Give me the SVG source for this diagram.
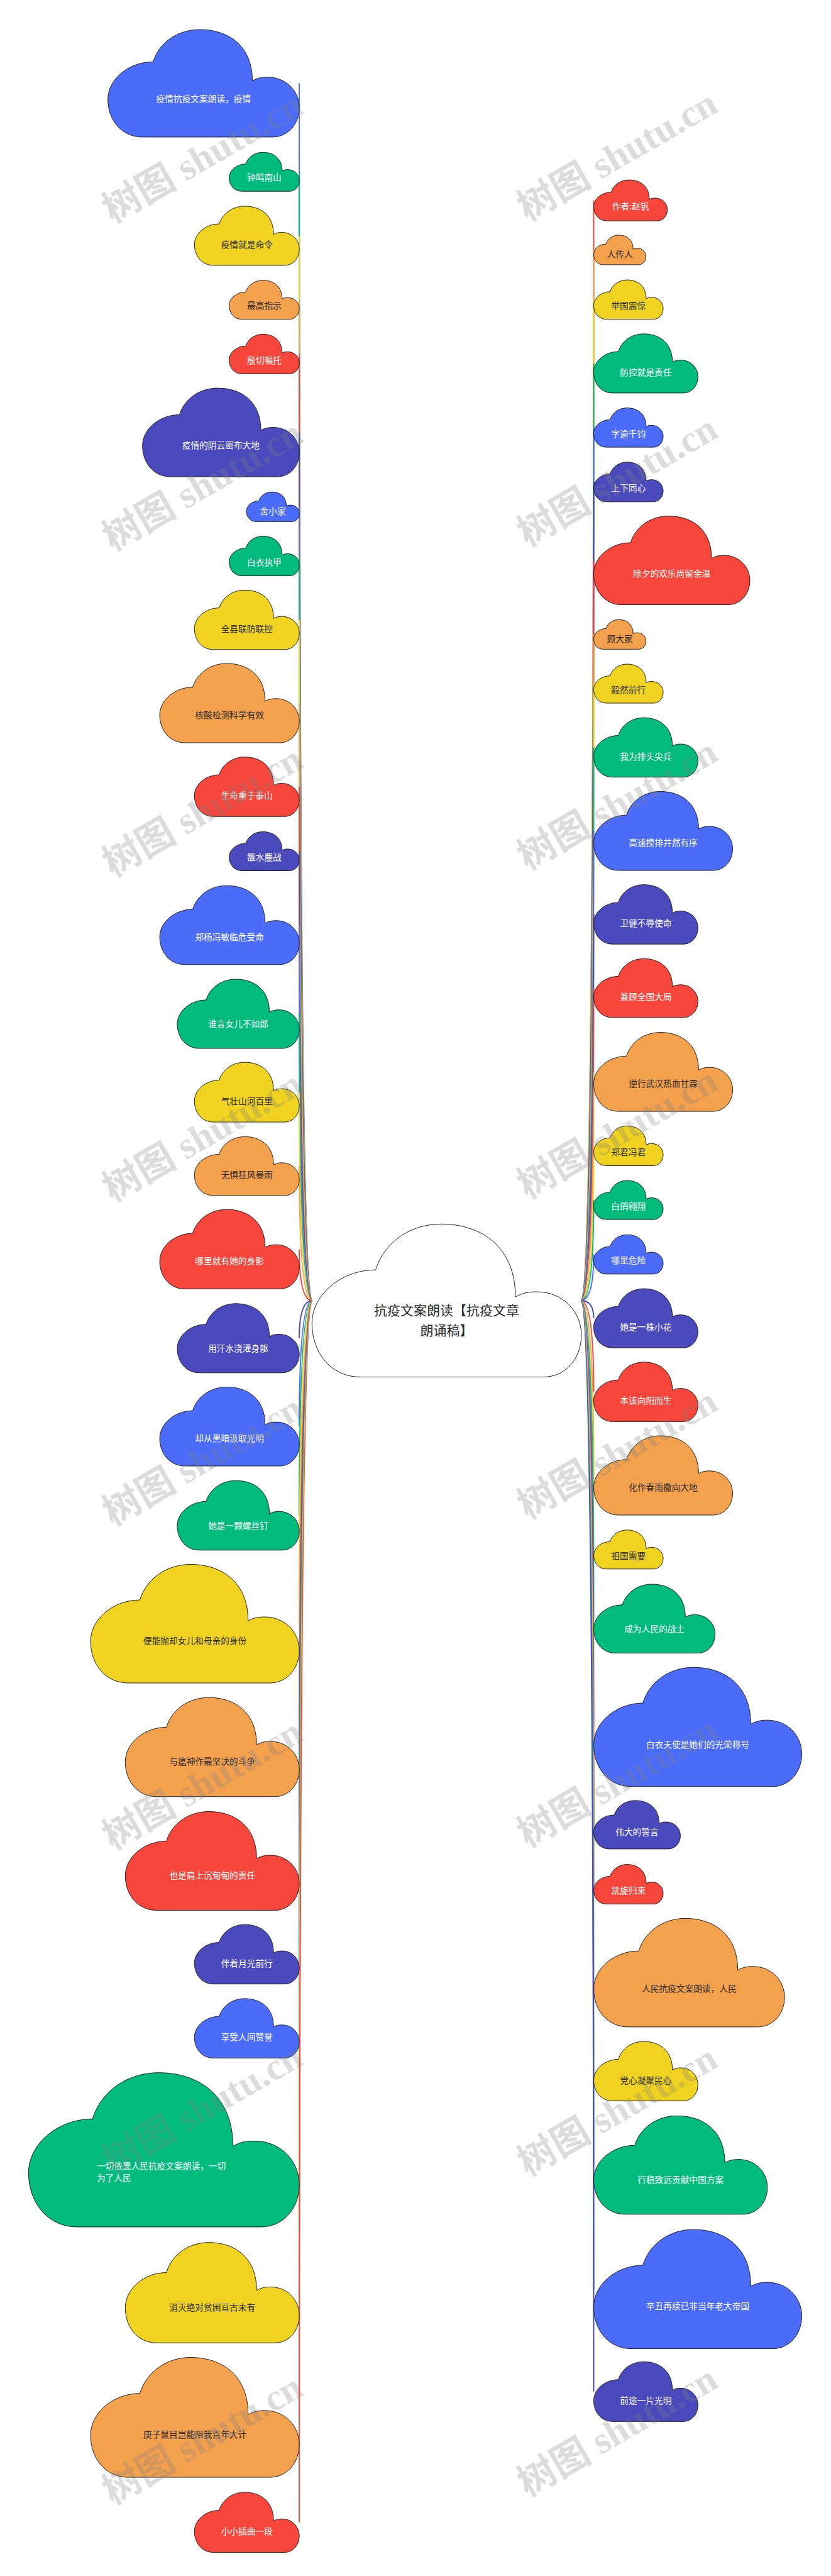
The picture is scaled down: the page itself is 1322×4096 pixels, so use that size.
<svg xmlns="http://www.w3.org/2000/svg" xmlns:xlink="http://www.w3.org/1999/xlink" width="1322" height="4096" viewBox="0 0 1322 4096">
<style>
.cl{stroke:#1f1f1f;stroke-width:1}
.bl{fill:#4A6CF8}.gr{fill:#00BB7B}.ye{fill:#F0D320}.or{fill:#F4A14E}.re{fill:#F6453B}.in{fill:#4A4ABD}.wh{fill:#FFFFFF}
.t{font-family:"Noto Sans CJK SC","Liberation Sans",sans-serif;font-size:13.7px;text-anchor:middle;dominant-baseline:central}
.tl{font-family:"Noto Sans CJK SC","Liberation Sans",sans-serif;font-size:13.7px;text-anchor:start;dominant-baseline:central}
.w{fill:#FFFFFF}.d{fill:#2a2a2a}
.ct{font-family:"Noto Sans CJK SC","Liberation Sans",sans-serif;font-size:21px;text-anchor:middle;dominant-baseline:central;fill:#2a2a2a}
.k{fill:none;stroke-width:2}
.kb{stroke:#4A6CF8}.kg{stroke:#00BB7B}.ky{stroke:#F0D320}.ko{stroke:#F4A14E}.kr{stroke:#F6453B}.ki{stroke:#4A4ABD}
.wm{font-family:"Liberation Serif","Noto Sans CJK SC",serif;font-weight:bold;font-size:60px;fill:#808080;opacity:0.27}
</style>
<defs>
<path id="cloud" vector-effect="non-scaling-stroke" d="M0,65 C0,46 11,30 23.6,30 C27,11 37,0 48,0 C63,0 75.5,15 75.5,47.7 C78,45 80.5,44.3 83.5,44.3 C93,44.3 100,57 100,72.7 C100,88 94,100 86,100 L18,100 C7,100 0,84 0,65 Z"/>
</defs>
<rect width="1322" height="4096" fill="#FFFFFF"/>
<g id="connectors">
<path class="k kb" d="M497,2068 Q476.1,2068 476.1,132.5"/>
<path class="k kg" d="M497,2068 Q476.1,2068 476.1,273.2"/>
<path class="k ky" d="M497,2068 Q476.1,2068 476.1,374.9"/>
<path class="k ko" d="M497,2068 Q476.1,2068 476.1,476.7"/>
<path class="k kr" d="M497,2068 Q476.1,2068 476.1,562.9"/>
<path class="k ki" d="M497,2068 Q476.1,2068 476.1,687.6"/>
<path class="k kb" d="M497,2068 Q476.1,2068 476.1,805.8"/>
<path class="k kg" d="M497,2068 Q476.1,2068 476.1,884.1"/>
<path class="k ky" d="M497,2068 Q476.1,2068 476.1,985.6"/>
<path class="k ko" d="M497,2068 Q476.1,2068 476.1,1118"/>
<path class="k kr" d="M497,2068 Q476.1,2068 476.1,1251"/>
<path class="k ki" d="M497,2068 Q476.1,2068 476.1,1353.5"/>
<path class="k kb" d="M497,2068 Q476.1,2068 476.1,1471"/>
<path class="k kg" d="M497,2068 Q476.1,2068 476.1,1612"/>
<path class="k ky" d="M497,2068 Q476.1,2068 476.1,1736.6"/>
<path class="k ko" d="M497,2068 Q476.1,2068 476.1,1854.2"/>
<path class="k kr" d="M497,2068 Q476.1,2068 476.1,1986.4"/>
<path class="k ki" d="M497,2068 Q476.1,2068 476.1,2127.8"/>
<path class="k kb" d="M497,2068 Q476.1,2068 476.1,2268.3"/>
<path class="k kg" d="M497,2068 Q476.1,2068 476.1,2409.6"/>
<path class="k ky" d="M497,2068 Q476.1,2068 476.1,2581.8"/>
<path class="k ko" d="M497,2068 Q476.1,2068 476.1,2778"/>
<path class="k kr" d="M497,2068 Q476.1,2068 476.1,2959"/>
<path class="k ki" d="M497,2068 Q476.1,2068 476.1,3107.5"/>
<path class="k kb" d="M497,2068 Q476.1,2068 476.1,3225.2"/>
<path class="k kg" d="M497,2068 Q476.1,2068 476.1,3418.4"/>
<path class="k ky" d="M497,2068 Q476.1,2068 476.1,3645.5"/>
<path class="k ko" d="M497,2068 Q476.1,2068 476.1,3843.8"/>
<path class="k kr" d="M497,2068 Q476.1,2068 476.1,4010.7"/>
<path class="k kr" d="M924,2068 Q944.5,2068 944.5,318.7"/>
<path class="k ko" d="M924,2068 Q944.5,2068 944.5,397.4"/>
<path class="k ky" d="M924,2068 Q944.5,2068 944.5,476.4"/>
<path class="k kg" d="M924,2068 Q944.5,2068 944.5,577.9"/>
<path class="k kb" d="M924,2068 Q944.5,2068 944.5,679.9"/>
<path class="k ki" d="M924,2068 Q944.5,2068 944.5,766.3"/>
<path class="k kr" d="M924,2068 Q944.5,2068 944.5,891.1"/>
<path class="k ko" d="M924,2068 Q944.5,2068 944.5,1008.8"/>
<path class="k ky" d="M924,2068 Q944.5,2068 944.5,1087"/>
<path class="k kg" d="M924,2068 Q944.5,2068 944.5,1188.5"/>
<path class="k kb" d="M924,2068 Q944.5,2068 944.5,1321.3"/>
<path class="k ki" d="M924,2068 Q944.5,2068 944.5,1454"/>
<path class="k kr" d="M924,2068 Q944.5,2068 944.5,1571.2"/>
<path class="k ko" d="M924,2068 Q944.5,2068 944.5,1704.4"/>
<path class="k ky" d="M924,2068 Q944.5,2068 944.5,1821.9"/>
<path class="k kg" d="M924,2068 Q944.5,2068 944.5,1908.1"/>
<path class="k kb" d="M924,2068 Q944.5,2068 944.5,1994.6"/>
<path class="k ki" d="M924,2068 Q944.5,2068 944.5,2096.1"/>
<path class="k kr" d="M924,2068 Q944.5,2068 944.5,2213.1"/>
<path class="k ko" d="M924,2068 Q944.5,2068 944.5,2346"/>
<path class="k ky" d="M924,2068 Q944.5,2068 944.5,2463.8"/>
<path class="k kg" d="M924,2068 Q944.5,2068 944.5,2573.8"/>
<path class="k kb" d="M924,2068 Q944.5,2068 944.5,2746"/>
<path class="k ki" d="M924,2068 Q944.5,2068 944.5,2901.4"/>
<path class="k kr" d="M924,2068 Q944.5,2068 944.5,2996.1"/>
<path class="k ko" d="M924,2068 Q944.5,2068 944.5,3136.7"/>
<path class="k ky" d="M924,2068 Q944.5,2068 944.5,3293.4"/>
<path class="k kg" d="M924,2068 Q944.5,2068 944.5,3442.6"/>
<path class="k kb" d="M924,2068 Q944.5,2068 944.5,3639.9"/>
<path class="k ki" d="M924,2068 Q944.5,2068 944.5,3802.8"/>
</g>
<g id="center"><use xlink:href="#cloud" class="cl wh" transform="translate(496.3,1946.3) scale(4.286,2.432)"/><text class="ct" x="710.6" y="2082">抗疫文案朗读【抗疫文章</text><text class="ct" x="710.6" y="2113.7">朗诵稿】</text></g>
<g id="n1"><use xlink:href="#cloud" class="cl bl" transform="translate(171.7,47) scale(3.044,1.709)"/><text class="t w" x="323.9" y="156.4">疫情抗疫文案朗读，疫情</text></g>
<g id="n2"><use xlink:href="#cloud" class="cl gr" transform="translate(364.6,242.2) scale(1.115,0.62)"/><text class="t w" x="420.4" y="281">钟鸣南山</text></g>
<g id="n3"><use xlink:href="#cloud" class="cl ye" transform="translate(309.3,327.9) scale(1.668,0.94)"/><text class="t d" x="392.7" y="388.1">疫情就是命令</text></g>
<g id="n4"><use xlink:href="#cloud" class="cl or" transform="translate(364.6,445.7) scale(1.115,0.62)"/><text class="t d" x="420.4" y="485.4">最高指示</text></g>
<g id="n5"><use xlink:href="#cloud" class="cl re" transform="translate(364.6,531.4) scale(1.115,0.63)"/><text class="t w" x="420.4" y="571.7">殷切嘱托</text></g>
<g id="n6"><use xlink:href="#cloud" class="cl in" transform="translate(226.7,617.1) scale(2.494,1.41)"/><text class="t w" x="351.4" y="707.3">疫情的阴云密布大地</text></g>
<g id="n7"><use xlink:href="#cloud" class="cl bl" transform="translate(392,782.3) scale(0.842,0.47)"/><text class="t w" x="434.1" y="812.4">舍小家</text></g>
<g id="n8"><use xlink:href="#cloud" class="cl gr" transform="translate(364.6,852.6) scale(1.115,0.63)"/><text class="t w" x="420.4" y="892.9">白衣执甲</text></g>
<g id="n9"><use xlink:href="#cloud" class="cl ye" transform="translate(309.3,938.3) scale(1.668,0.945)"/><text class="t d" x="392.7" y="998.8">全县联防联控</text></g>
<g id="n10"><use xlink:href="#cloud" class="cl or" transform="translate(254.1,1055) scale(2.22,1.26)"/><text class="t d" x="365.1" y="1135.6">核酸检测科学有效</text></g>
<g id="n11"><use xlink:href="#cloud" class="cl re" transform="translate(309.3,1203.7) scale(1.668,0.945)"/><text class="t w" x="392.7" y="1264.2">生命重于泰山</text></g>
<g id="n12"><use xlink:href="#cloud" class="cl in" transform="translate(364.6,1322.5) scale(1.115,0.62)"/><text class="t w" x="420.4" y="1362.2">雒水鏖战</text></g>
<g id="n13"><use xlink:href="#cloud" class="cl bl" transform="translate(254.1,1408.2) scale(2.22,1.255)"/><text class="t w" x="365.1" y="1488.5">郑杨冯敏临危受命</text></g>
<g id="n14"><use xlink:href="#cloud" class="cl gr" transform="translate(282,1557) scale(1.941,1.1)"/><text class="t w" x="379.05" y="1627.4">谁言女儿不如郎</text></g>
<g id="n15"><use xlink:href="#cloud" class="cl ye" transform="translate(309.3,1689.1) scale(1.668,0.95)"/><text class="t d" x="392.7" y="1749.9">气壮山河百里</text></g>
<g id="n16"><use xlink:href="#cloud" class="cl or" transform="translate(309.3,1807.4) scale(1.668,0.935)"/><text class="t d" x="392.7" y="1867.2">无惧狂风暴雨</text></g>
<g id="n17"><use xlink:href="#cloud" class="cl re" transform="translate(254.1,1923.1) scale(2.22,1.265)"/><text class="t w" x="365.1" y="2004.1">哪里就有她的身影</text></g>
<g id="n18"><use xlink:href="#cloud" class="cl in" transform="translate(282,2072.8) scale(1.941,1.1)"/><text class="t w" x="379.05" y="2143.2">用汗水浇灌身躯</text></g>
<g id="n19"><use xlink:href="#cloud" class="cl bl" transform="translate(254.1,2205.5) scale(2.22,1.255)"/><text class="t w" x="365.1" y="2285.8">却从黑暗汲取光明</text></g>
<g id="n20"><use xlink:href="#cloud" class="cl gr" transform="translate(282,2354.3) scale(1.941,1.105)"/><text class="t w" x="379.05" y="2425">她是一颗螺丝钉</text></g>
<g id="n21"><use xlink:href="#cloud" class="cl ye" transform="translate(144.1,2487.5) scale(3.32,1.885)"/><text class="t d" x="310.1" y="2608.1">便能抛却女儿和母亲的身份</text></g>
<g id="n22"><use xlink:href="#cloud" class="cl or" transform="translate(199.3,2699.2) scale(2.768,1.575)"/><text class="t d" x="337.7" y="2800">与瘟神作最坚决的斗争</text></g>
<g id="n23"><use xlink:href="#cloud" class="cl re" transform="translate(199.3,2880.5) scale(2.768,1.57)"/><text class="t w" x="337.7" y="2981">也是肩上沉甸甸的责任</text></g>
<g id="n24"><use xlink:href="#cloud" class="cl in" transform="translate(309.3,3060.2) scale(1.668,0.945)"/><text class="t w" x="392.7" y="3120.7">伴着月光前行</text></g>
<g id="n25"><use xlink:href="#cloud" class="cl bl" transform="translate(309.3,3177.9) scale(1.668,0.945)"/><text class="t w" x="392.7" y="3238.4">享受人间赞誉</text></g>
<g id="n26"><use xlink:href="#cloud" class="cl gr" transform="translate(45.4,3295.7) scale(4.307,2.453)"/><text class="tl w" x="153.9" y="3443.3">一切依靠人民抗疫文案朗读，一切</text><text class="tl w" x="153.9" y="3462.4">为了人民</text></g>
<g id="n27"><use xlink:href="#cloud" class="cl ye" transform="translate(199.3,3565.7) scale(2.768,1.596)"/><text class="t d" x="337.7" y="3667.8">消灭绝对贫困亘古未有</text></g>
<g id="n28"><use xlink:href="#cloud" class="cl or" transform="translate(144.1,3748.5) scale(3.32,1.905)"/><text class="t d" x="310.1" y="3870.4">庚子鼠目岂能阻我百年大计</text></g>
<g id="n29"><use xlink:href="#cloud" class="cl re" transform="translate(309.3,3962.9) scale(1.668,0.955)"/><text class="t w" x="392.7" y="4024">小小插曲一段</text></g>
<g id="r1"><use xlink:href="#cloud" class="cl re" transform="translate(944.5,286.1) scale(1.172,0.651)"/><text class="t w" x="1003.1" y="326.8">作者:赵钒</text></g>
<g id="r2"><use xlink:href="#cloud" class="cl or" transform="translate(944.5,373.9) scale(0.831,0.47)"/><text class="t d" x="986.05" y="403.3">人传人</text></g>
<g id="r3"><use xlink:href="#cloud" class="cl ye" transform="translate(944.5,445.1) scale(1.105,0.625)"/><text class="t d" x="999.75" y="485.1">举国震惊</text></g>
<g id="r4"><use xlink:href="#cloud" class="cl gr" transform="translate(944.5,530.9) scale(1.658,0.94)"/><text class="t w" x="1027.4" y="591.1">防控就是责任</text></g>
<g id="r5"><use xlink:href="#cloud" class="cl bl" transform="translate(944.5,648.6) scale(1.105,0.625)"/><text class="t w" x="999.75" y="688.6">字逾千钧</text></g>
<g id="r6"><use xlink:href="#cloud" class="cl in" transform="translate(944.5,734.8) scale(1.105,0.63)"/><text class="t w" x="999.75" y="775.1">上下同心</text></g>
<g id="r7"><use xlink:href="#cloud" class="cl re" transform="translate(944.5,820.6) scale(2.484,1.41)"/><text class="t w" x="1068.7" y="910.8">除夕的欢乐尚留余温</text></g>
<g id="r8"><use xlink:href="#cloud" class="cl or" transform="translate(944.5,985.3) scale(0.831,0.47)"/><text class="t d" x="986.05" y="1015.4">顾大家</text></g>
<g id="r9"><use xlink:href="#cloud" class="cl ye" transform="translate(944.5,1056) scale(1.105,0.62)"/><text class="t d" x="999.75" y="1095.7">毅然前行</text></g>
<g id="r10"><use xlink:href="#cloud" class="cl gr" transform="translate(944.5,1141.2) scale(1.658,0.945)"/><text class="t w" x="1027.4" y="1201.7">我为排头尖兵</text></g>
<g id="r11"><use xlink:href="#cloud" class="cl bl" transform="translate(944.5,1258.5) scale(2.21,1.255)"/><text class="t w" x="1055" y="1338.8">高速摸排井然有序</text></g>
<g id="r12"><use xlink:href="#cloud" class="cl in" transform="translate(944.5,1406.7) scale(1.658,0.945)"/><text class="t w" x="1027.4" y="1467.2">卫健不辱使命</text></g>
<g id="r13"><use xlink:href="#cloud" class="cl re" transform="translate(944.5,1524.4) scale(1.658,0.935)"/><text class="t w" x="1027.4" y="1584.2">兼顾全国大局</text></g>
<g id="r14"><use xlink:href="#cloud" class="cl or" transform="translate(944.5,1641.6) scale(2.21,1.255)"/><text class="t d" x="1055" y="1721.9">逆行武汉热血甘霖</text></g>
<g id="r15"><use xlink:href="#cloud" class="cl ye" transform="translate(944.5,1790.4) scale(1.105,0.63)"/><text class="t d" x="999.75" y="1830.7">郑君冯君</text></g>
<g id="r16"><use xlink:href="#cloud" class="cl gr" transform="translate(944.5,1877.1) scale(1.105,0.62)"/><text class="t w" x="999.75" y="1916.8">白鸽翱翔</text></g>
<g id="r17"><use xlink:href="#cloud" class="cl bl" transform="translate(944.5,1963.3) scale(1.105,0.625)"/><text class="t w" x="999.75" y="2003.3">哪里危险</text></g>
<g id="r18"><use xlink:href="#cloud" class="cl in" transform="translate(944.5,2049.1) scale(1.658,0.94)"/><text class="t w" x="1027.4" y="2109.3">她是一株小花</text></g>
<g id="r19"><use xlink:href="#cloud" class="cl re" transform="translate(944.5,2165.8) scale(1.658,0.945)"/><text class="t w" x="1027.4" y="2226.3">本该向阳而生</text></g>
<g id="r20"><use xlink:href="#cloud" class="cl or" transform="translate(944.5,2283) scale(2.21,1.26)"/><text class="t d" x="1055" y="2363.6">化作春雨撒向大地</text></g>
<g id="r21"><use xlink:href="#cloud" class="cl ye" transform="translate(944.5,2432.8) scale(1.105,0.62)"/><text class="t d" x="999.75" y="2472.5">祖国需要</text></g>
<g id="r22"><use xlink:href="#cloud" class="cl gr" transform="translate(944.5,2519) scale(1.931,1.095)"/><text class="t w" x="1041.05" y="2589.1">成为人民的战士</text></g>
<g id="r23"><use xlink:href="#cloud" class="cl bl" transform="translate(944.5,2651.2) scale(3.31,1.895)"/><text class="t w" x="1110" y="2772.5">白衣天使是她们的光荣称号</text></g>
<g id="r24"><use xlink:href="#cloud" class="cl in" transform="translate(944.5,2862.9) scale(1.379,0.77)"/><text class="t w" x="1013.45" y="2912.2">伟大的誓言</text></g>
<g id="r25"><use xlink:href="#cloud" class="cl re" transform="translate(944.5,2964.6) scale(1.105,0.63)"/><text class="t w" x="999.75" y="3004.9">凯旋归来</text></g>
<g id="r26"><use xlink:href="#cloud" class="cl or" transform="translate(944.5,3050.4) scale(3.036,1.725)"/><text class="t d" x="1096.3" y="3160.8">人民抗疫文案朗读，人民</text></g>
<g id="r27"><use xlink:href="#cloud" class="cl ye" transform="translate(944.5,3246.1) scale(1.658,0.945)"/><text class="t d" x="1027.4" y="3306.6">党心凝聚民心</text></g>
<g id="r28"><use xlink:href="#cloud" class="cl gr" transform="translate(944.5,3364.3) scale(2.763,1.565)"/><text class="t w" x="1082.65" y="3464.5">行稳致远贡献中国方案</text></g>
<g id="r29"><use xlink:href="#cloud" class="cl bl" transform="translate(944.5,3545.1) scale(3.31,1.895)"/><text class="t w" x="1110" y="3666.4">辛丑再续已非当年老大帝国</text></g>
<g id="r30"><use xlink:href="#cloud" class="cl in" transform="translate(944.5,3755.3) scale(1.658,0.95)"/><text class="t w" x="1027.4" y="3816.1">前途一片光明</text></g>
<g id="watermarks">
<text class="wm" transform="translate(179.2,355.8) rotate(-30)">树图 shutu.cn</text>
<text class="wm" transform="translate(179.2,877.4) rotate(-30)">树图 shutu.cn</text>
<text class="wm" transform="translate(179.2,1395.3) rotate(-30)">树图 shutu.cn</text>
<text class="wm" transform="translate(179.2,1912.2) rotate(-30)">树图 shutu.cn</text>
<text class="wm" transform="translate(179.2,2427.6) rotate(-30)">树图 shutu.cn</text>
<text class="wm" transform="translate(179.2,2942.4) rotate(-30)">树图 shutu.cn</text>
<text class="wm" transform="translate(179.2,3458.3) rotate(-30)">树图 shutu.cn</text>
<text class="wm" transform="translate(179.2,3984) rotate(-30)">树图 shutu.cn</text>
<text class="wm" transform="translate(839.2,352.7) rotate(-30)">树图 shutu.cn</text>
<text class="wm" transform="translate(839.2,870.1) rotate(-30)">树图 shutu.cn</text>
<text class="wm" transform="translate(839.2,1384.4) rotate(-30)">树图 shutu.cn</text>
<text class="wm" transform="translate(839.2,1907.1) rotate(-30)">树图 shutu.cn</text>
<text class="wm" transform="translate(839.2,2416.7) rotate(-30)">树图 shutu.cn</text>
<text class="wm" transform="translate(839.2,2938.8) rotate(-30)">树图 shutu.cn</text>
<text class="wm" transform="translate(839.2,3461.3) rotate(-30)">树图 shutu.cn</text>
<text class="wm" transform="translate(839.2,3971) rotate(-30)">树图 shutu.cn</text>
</g>
</svg>
